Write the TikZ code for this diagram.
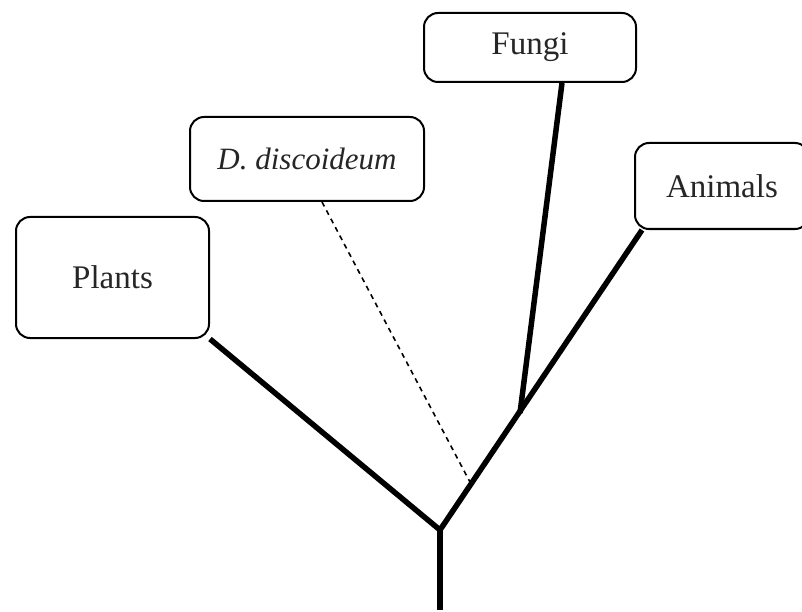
\documentclass[tikz,border=0pt]{standalone}
\usepackage{fontspec}
\setmainfont{Liberation Serif}
\usetikzlibrary{backgrounds}
\begin{document}
\begin{tikzpicture}[x=1pt,y=-1pt,
  taxon/.style={draw, line width=2pt, rounded corners=14pt, fill=white,
    inner sep=0pt, text=black!85, font=\fontsize{33}{38}\selectfont},
  branch/.style={line width=5.5pt},
  uncertain/.style={line width=1.6pt, dash pattern=on 5pt off 4.5pt}]
\useasboundingbox (0,0) rectangle (802,612);
\clip (0,0) rectangle (802,612);

% taxa
\node[taxon, minimum width=193pt, minimum height=121pt] (plants) at (112.5,277.5) {Plants};
\node[taxon, minimum width=234pt, minimum height=84pt, font=\fontsize{31}{36}\selectfont\itshape] (disc) at (307,159) {D. discoideum};
\node[taxon, minimum width=212pt, minimum height=69pt] (fungi) at (530,47.5) {Fungi};
\node[taxon, minimum width=174pt, minimum height=86pt, text width=174pt, align=left] (animals) at (722,186) {\hspace*{31pt}Animals};

% branching points
\coordinate (root) at (440,530);
\coordinate (base) at (440,610);
\coordinate (fork) at (520,413);
\coordinate (meet) at (471,484);

\begin{pgfonlayer}{background}
  \draw[branch] (base) -- (root);
  \draw[branch, line join=miter] (plants.south east) -- (root) -- ([xshift=8pt]animals.south west);
  \draw[branch] (fork) -- ([xshift=32pt]fungi.south);
  \draw[uncertain] ([xshift=15pt]disc.south) -- (meet);
\end{pgfonlayer}
\end{tikzpicture}
\end{document}
